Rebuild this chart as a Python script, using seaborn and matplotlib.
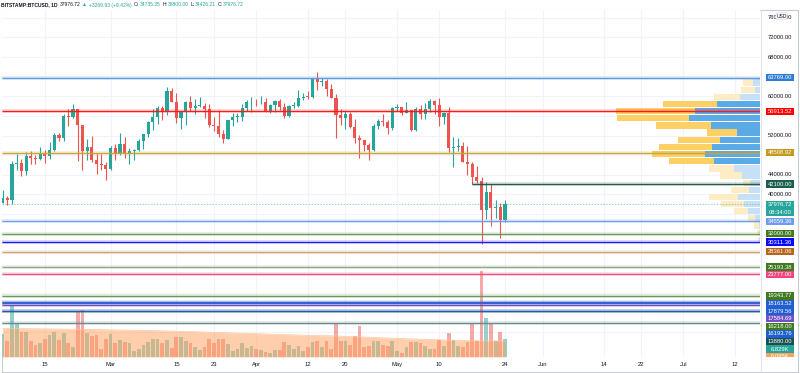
import matplotlib
matplotlib.use("Agg")
import matplotlib.dates as mdates
import matplotlib.pyplot as plt
import pandas as pd
import seaborn as sns
from matplotlib.patches import Rectangle, FancyBboxPatch

W, H = 800, 373

# ---- daily candles BITSTAMP:BTCUSD, 6 Feb - 24 May 2021 ----
dates = pd.date_range("2021-02-06", "2021-05-24", freq="D")
opens = [38300, 39250, 38900, 46300, 46450, 44800, 47900, 47350, 47200, 48550, 47850, 49100, 52050, 51550, 55900, 55850, 57400, 54100, 48850, 49650, 46950, 46250, 46100,
         45150, 49550, 48450, 50300, 48350, 48800, 49050, 50900, 52400, 54800, 55800, 57650, 57000, 61100, 58900, 55500, 56950, 58850, 57700, 58050, 58100, 57400, 54100, 53950, 52300, 51300, 55100, 55800, 55850, 57600, 58750,
         58800, 58750, 58850, 56850, 58150, 59050, 57900, 55900, 57950, 58100, 59700, 59900, 59800, 63500, 62950, 63150, 61450, 59750, 56150, 55600, 56450, 53750, 51600, 51050, 50050, 49000, 53950, 55000, 54800, 53550,
         57700, 57800, 56600, 57150, 53100, 57350, 56350, 57350, 58950, 58250, 55800, 56700, 49400, 49600, 49850, 46650, 46300, 43550, 42850, 36750, 40600, 37250, 37450, 34735.35]
highs = [40950, 39700, 46750, 48200, 47300, 48600, 48900, 48000, 49700, 49050, 50600, 52600, 52500, 56300, 57500, 58350, 57500, 54200, 51300, 52000, 48400, 48300, 46600,
         49800, 50200, 52600, 51700, 49400, 49200, 51400, 52400, 54900, 57400, 58100, 58000, 61800, 61700, 60600, 56950, 58950, 60100, 59500, 59900, 58600, 58400, 55800, 57200, 53200, 55100, 56600, 56500, 58400, 59300, 59800,
         59500, 60100, 59700, 58500, 59200, 59400, 58600, 58150, 58900, 61200, 60700, 61100, 63700, 64900, 63800, 63500, 62500, 60400, 57500, 57000, 56800, 55400, 52100, 51200, 50500, 54300, 55400, 56400, 55200, 57900,
         58400, 57900, 58900, 57200, 57900, 58300, 58600, 59500, 59200, 59600, 56800, 57900, 51700, 51500, 50600, 49800, 46600, 45800, 43500, 42500, 42200, 38800, 38200, 38800]
lows = [38200, 37950, 38000, 45000, 43800, 44000, 46300, 46250, 47100, 46350, 47150, 48950, 50950, 50850, 53900, 55500, 46900, 45000, 47100, 46700, 44100, 45000, 43000,
        45000, 47100, 48100, 47500, 46300, 47100, 48900, 49300, 51800, 53100, 54300, 55200, 56100, 58900, 54600, 53400, 54100, 57000, 56300, 57800, 55500, 53700, 53000, 51700, 50400, 51300, 53900, 54700, 54900, 57000, 56900,
        58000, 58500, 56800, 56500, 56800, 57300, 55500, 55800, 57700, 57900, 59200, 59400, 59750, 61300, 62000, 60000, 59600, 51500, 54200, 53400, 53600, 50400, 47400, 48800, 47100, 48800, 53300, 53900, 52400, 53100,
        57000, 56100, 56500, 53000, 52900, 55300, 55400, 56900, 56300, 54000, 54400, 48600, 45600, 48800, 46600, 43900, 42100, 42300, 30000, 35000, 33500, 35300, 31100, 34426.21]
closes = [39250, 38900, 46300, 46450, 44800, 47900, 47350, 47200, 48550, 47850, 49100, 52050, 51550, 55900, 55850, 57400, 54100, 48850, 49650, 46950, 46250, 46100, 45150,
          49550, 48450, 50300, 48350, 48800, 49050, 50900, 52400, 54800, 55800, 57650, 57000, 61100, 58900, 55500, 56950, 58850, 57700, 58050, 58100, 57400, 54100, 53950, 52300, 51300, 55100, 55800, 55850, 57600, 58750, 58800,
          58750, 58850, 56850, 58150, 59050, 57900, 55900, 57950, 58100, 59700, 59900, 59800, 63500, 62950, 63150, 61450, 59750, 56150, 55600, 56450, 53750, 51600, 51050, 50050, 49000, 53950, 55000, 54800, 53550, 57700,
          57800, 56600, 57150, 53100, 57350, 56350, 57350, 58950, 58250, 55800, 56700, 49400, 49600, 49850, 46650, 46300, 43550, 42850, 36750, 40600, 37250, 37450, 34735.35, 37976.72]
volumes = [8900, 6100, 19400, 12700, 9600, 9500, 6100, 4600, 5300, 6800, 8500, 9500, 6500, 9200, 5300, 3700, 17200, 17700, 9100, 8100, 8300, 3200, 7000,
           8700, 5200, 6500, 5700, 5400, 2300, 3000, 4600, 5800, 7000, 6800, 5300, 6600, 3400, 7700, 7700, 6100, 5300, 3700, 2700, 3700, 6700, 5400, 7000, 6800, 4900, 2300, 3200, 5400, 3300, 4200,
           2900, 2500, 1900, 1600, 2500, 2800, 5700, 4400, 2900, 4200, 2300, 3800, 5800, 6100, 3700, 5900, 3200, 13000, 6100, 6100, 4600, 7800, 11600, 3800, 4200, 5900, 6100, 4400, 4200, 5900,
           2300, 1600, 3800, 5700, 5700, 5200, 4200, 2900, 2900, 6600, 4200, 9100, 6300, 4000, 3800, 5700, 12400, 6100, 32600, 14700, 13000, 6100, 9400, 6829]

# volume moving average
ma_dates = pd.to_datetime(["2021-02-06", "2021-02-27", "2021-03-13", "2021-03-28", "2021-04-11", "2021-04-18",
                           "2021-04-25", "2021-05-02", "2021-05-09", "2021-05-16", "2021-05-24"])
ma_volume = [10900, 10400, 9900, 9100, 8300, 8000, 7500, 7000, 6600, 6200, 6100]

# ---- horizontal levels ----
level_prices = [63769.00, 56913.52, 48508.92, 42100.00, 34559.36, 32000.00, 30311.36, 28361.06, 25193.38,
                23777.00, 19343.77, 18163.52, 17879.56, 17584.69, 16218.00, 16193.76, 13880.00]
level_line_colors = ["#5b9be0", "#ff1a1a", "#c9a43a", "#1f5c4a", "#6f9ee8", "#6f9a55", "#1a1aff", "#d4a077", "#8fa884",
                     "#f0507f", "#6d9a52", "#3a5fd0", "#3a5fd0", "#6a4fc0", "#6d9a52", "#2255c8", "#6a8a8b"]
level_label_colors = ["#2f7cd6", "#ff0000", "#c49a1c", "#1b5e4b", "#6d9cf0", "#3f7a22", "#0a0aff", "#b8651b", "#3f7a22",
                      "#f0457a", "#3f7a22", "#1f5fd0", "#1f5fd0", "#7450c8", "#3f7a22", "#1f5fd0", "#1e4f50"]
level_starts = {42100.00: "2021-05-17"}

last_price = 37976.72
countdown = "08:34:00"
ma_label = "6.095K"

# ---- visible range volume profile (bar lengths in px) ----
profile_prices = [62795, 61339, 59883, 58426, 56970, 55514, 54058, 52602, 51145, 49689, 48233, 46777,
                  45321, 43864, 42408, 40952, 39496, 38040, 36583, 35127, 33671, 32215, 30759]
profile_up = [7, 5, 20, 43, 65, 71, 49, 23, 40, 48, 55, 46, 26, 18, 10, 11, 22, 16, 12, 5, 1, 1, 0.5]
profile_down = [10, 14, 26, 54, 79, 72, 55, 30, 42, 53, 53, 45, 25, 22, 7, 18, 29, 23, 14, 7, 5, 2, 1]
profile_in_va = [False, False, False, True, True, True, True, True, True, True, True, True,
                 False, False, False, False, False, False, False, False, False, False, False]

price_ticks = [12000, 16000, 20000, 24000, 28000, 32000, 36000, 40000, 44000, 48000, 52000, 56000, 60000, 64000, 68000, 72000, 76000]
tick_dates = pd.to_datetime(["2021-02-15", "2021-03-01", "2021-03-15", "2021-03-23", "2021-04-01", "2021-04-12", "2021-04-20",
                             "2021-05-01", "2021-05-10", "2021-05-24", "2021-06-01", "2021-06-14", "2021-06-22", "2021-07-01", "2021-07-12"])
tick_labels = ["15", "Mar", "15", "23", "Apr", "12", "20", "May", "10", "24", "Jun", "14", "22", "Jul", "12"]

UP, DOWN = "#26a69a", "#ef5350"
TEXT = "#131722"
PX_PER_DAY = 4.695

sns.set_theme(style="white")
plt.rcParams["font.family"] = ["Liberation Sans", "DejaVu Sans"]

fig = plt.figure(figsize=(W / 100, H / 100), dpi=100)
pos = [2 / W, (H - 357) / H, 758 / W, 347 / H]
ax_v = fig.add_axes(pos)
ax = fig.add_axes(pos, sharex=ax_v)
ax.patch.set_alpha(0)

xs = mdates.date2num(dates)
x_left = xs[0] - 0.13
x_right = xs[0] + 161.3
ax_v.set_xlim(x_left, x_right)
ax.set_ylim(6904, 77576)
ax_v.set_ylim(0, 347 * 380)

# grid
for d in tick_dates:
    ax_v.axvline(mdates.date2num(d), color="#f0f3fa", lw=0.8, zorder=0)
for p in price_ticks:
    ax_v.plot([0, 1], [p, p], transform=ax.get_yaxis_transform(), color="#f0f3fa", lw=0.8, zorder=0)

# volume
vol_colors = [UP if c >= o else DOWN for o, c in zip(opens, closes)]
ax_v.bar(xs, volumes, width=0.8, color=vol_colors, alpha=0.5, linewidth=0, zorder=2)
ma_x = mdates.date2num(ma_dates)
ax_v.fill_between(ma_x, 0, ma_volume, color="#ff9f5a", alpha=0.5, linewidth=0, zorder=3)
sns.lineplot(x=ma_x, y=ma_volume, ax=ax_v, color="#ffc499", linewidth=0.5, zorder=3)

# volume profile anchored at the right edge
for p, up, dn, va in zip(profile_prices, profile_up, profile_down, profile_in_va):
    up_c = "#5aaae6" if va else "#c6e0f7"
    dn_c = "#fcd064" if va else "#feecc4"
    up_w = up / PX_PER_DAY
    dn_w = dn / PX_PER_DAY
    ax.barh(p, up_w, left=x_right - up_w, height=1456 * 0.88, color=up_c, linewidth=0, zorder=2)
    ax.barh(p, dn_w, left=x_right - up_w - dn_w, height=1456 * 0.88, color=dn_c, linewidth=0, zorder=2)

# candles
cndl_colors = [UP if c >= o else DOWN for o, c in zip(opens, closes)]
ax.vlines(xs, lows, highs, colors=cndl_colors, lw=0.8, zorder=4)
bottoms = [min(o, c) for o, c in zip(opens, closes)]
heights = [max(abs(c - o), 180) for o, c in zip(opens, closes)]
ax.bar(xs, heights, bottom=bottoms, width=0.66, color=cndl_colors, linewidth=0, zorder=5)

# levels
for p, lc in zip(level_prices, level_line_colors):
    start = mdates.date2num(pd.Timestamp(level_starts[p])) if p in level_starts else x_left
    ax.plot([start, x_right], [p, p], color=lc, lw=2.6, alpha=0.2, solid_capstyle="butt", zorder=6)
    ax.plot([start, x_right], [p, p], color=lc, lw=0.9, solid_capstyle="butt", zorder=7)
ax.axhline(last_price, color=UP, lw=0.7, alpha=0.5, dashes=(1.5, 1.5), zorder=6)

for a in (ax, ax_v):
    a.set_yticks([])
    for s in a.spines.values():
        s.set_visible(False)
ax.tick_params(labelbottom=False, length=0)
ax_v.set_xticks(mdates.date2num(tick_dates))
ax_v.set_xticklabels(tick_labels, fontsize=4.2, color=TEXT)
ax_v.tick_params(axis="x", length=0, pad=3.5)

# ---- right price scale ----
ax_r = fig.add_axes([760 / W, (H - 357) / H, 40 / W, 347 / H])
ax_r.set_xlim(0, 40)
ax_r.set_ylim(357, 10)
ax_r.axis("off")


def price_to_px(p):
    return H - ax.transData.transform((x_left, p))[1]


def vol_to_px(v):
    return H - ax_v.transData.transform((x_left, v))[1]


labels = [(price_to_px(p), f"{p:.2f}", c) for p, c in zip(level_prices, level_label_colors)]
labels.append((price_to_px(last_price), f"{last_price:.2f}", UP))
labels.append((price_to_px(last_price) + 0.01, countdown, UP))
labels.append((vol_to_px(volumes[-1]), f"{volumes[-1] / 1000:.3f}K", UP))
labels.append((vol_to_px(ma_volume[-1]), ma_label, "#f7a35c"))
labels.sort(key=lambda t: t[0])

placed = []
prev = -100
for y, txt, col in labels:
    y = max(y, prev + 7.6)
    prev = y
    placed.append(y)
    ax_r.add_patch(Rectangle((6, y - 3.7), 28, 7.4, color=col, lw=0, zorder=3))
    ax_r.text(20, y, txt, color="white", fontsize=4.2, ha="center", va="center", zorder=4, clip_on=True)

for p in price_ticks:
    y = price_to_px(p)
    if 10 < y < 357 and all(abs(y - q) > 7 for q in placed):
        ax_r.text(20, y, f"{p:.2f}", color=TEXT, fontsize=4.2, ha="center", va="center")

# small currency badge, drawn over the top tick as in the original
ax_r.add_patch(FancyBboxPatch((16.5, 13.5), 10, 5, boxstyle="round,pad=0.6,rounding_size=1.5",
                              facecolor="white", edgecolor="#d1d4dc", lw=0.5, zorder=5))
ax_r.text(21.5, 16, "USD", color=TEXT, fontsize=3.6, ha="center", va="center", zorder=6)

# frame
frame = fig.add_axes([0, 0, 1, 1], zorder=-1)
frame.set_xlim(0, W)
frame.set_ylim(H, 0)
frame.axis("off")
frame.plot([2, 798, 798, 2, 2], [10, 10, 372, 372, 10], color="#c8cbd3", lw=0.8)
frame.plot([761, 761], [10, 372], color="#e0e3eb", lw=0.8)

# header
pieces = [("BITSTAMP:BTCUSD, 1D", TEXT, 2.5), ("37976.72", TEXT, 1.5), ("\u25b2", UP, 1.5), ("+3269.93 (+9.42%)", UP, 2.5),
          ("O:", TEXT, 0.3), ("34735.35", UP, 2), ("H:", TEXT, 0.3), ("38800.00", UP, 2),
          ("L:", TEXT, 0.3), ("34426.21", UP, 2), ("C:", TEXT, 0.3), ("37976.72", UP, 0)]
renderer = fig.canvas.get_renderer()
hx = 1
for txt, col, gap in pieces:
    t = fig.text(hx / W, 1 - 5 / H, txt, color=col, fontsize=3.6, va="center", ha="left",
                 fontweight="bold" if txt.startswith("BITSTAMP") else "normal")
    hx += t.get_window_extent(renderer).width + gap

fig.savefig("out.png", dpi=100)
